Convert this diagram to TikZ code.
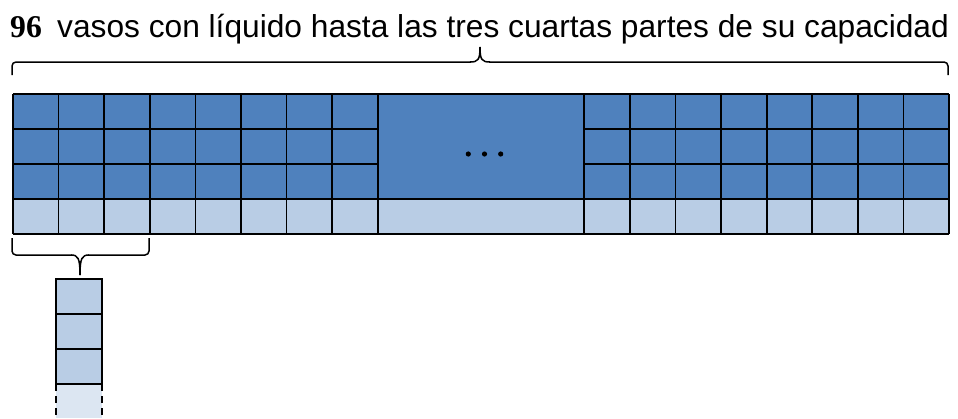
\documentclass[tikz,border=0pt]{standalone}
\usepackage{fontspec}
\setmainfont{Liberation Serif}
\setsansfont{Liberation Sans}
\definecolor{dblue}{HTML}{4F81BD}
\definecolor{lblue}{HTML}{B9CDE5}
\definecolor{pblue}{HTML}{DCE6F2}
\begin{document}
\begin{tikzpicture}[x=1pt,y=-1pt,
  gridline/.style={draw=black,line width=1.7pt},
  braceline/.style={draw=black,line width=1.5pt},
  dcell/.style={fill=dblue},
  lcell/.style={fill=lblue}]
\useasboundingbox (0,0) rectangle (958,418);
% title
\node[anchor=base west,inner sep=0,font=\fontsize{31.7}{38}\selectfont\bfseries\rmfamily] (num) at (10,37) {96};
\node[anchor=base west,inner sep=0,font=\fontsize{31.7}{38}\selectfont\sffamily] (title) at (57,37) {vasos con líquido hasta las tres cuartas partes de su capacidad};
% top brace
\draw[braceline,rounded corners=4pt] (12,75) -- (12,62) -- (471,62);
\draw[braceline] (470,62) .. controls (478,62) and (480,60) .. (480,47);
\draw[braceline] (490,62) .. controls (482,62) and (480,60) .. (480,47);
\draw[braceline,rounded corners=4pt] (489,62) -- (948,62) -- (948,75);
% fills
\fill[dblue] (13,94) rectangle (949.1,199);
\fill[lblue] (13,199) rectangle (949.1,234);
% grid lines
\foreach \i in {0,...,8}{
  \draw[gridline] ({13+\i*45.6},94) -- ({13+\i*45.6},234);
  \draw[gridline] ({584.3+\i*45.6},94) -- ({584.3+\i*45.6},234);
}
\foreach \y in {129,164}{
  \draw[gridline] (13,\y) -- (377.8,\y);
  \draw[gridline] (584.3,\y) -- (949.1,\y);
}
\draw[gridline] (13,94) -- (949.1,94);
\draw[gridline] (13,199) -- (949.1,199);
\draw[gridline] (13,234) -- (949.1,234);
% dots
\foreach \x in {468.3,484.5,500.7}{
  \fill[black] (\x,154) circle[radius=2.6];
}
% bottom brace
\draw[braceline,rounded corners=4pt] (12,238) -- (12,255) -- (72,255);
\draw[braceline] (71,255) .. controls (78,255) and (80,258) .. (80,275);
\draw[braceline] (89,255) .. controls (82,255) and (80,258) .. (80,275);
\draw[braceline,rounded corners=4pt] (88,255) -- (149,255) -- (149,238);
% stack
\fill[lblue] (56,279) rectangle (102,384);
\fill[pblue] (56,384) rectangle (102,418);
\draw[gridline] (56,384) -- (56,279) -- (102,279) -- (102,384);
\draw[gridline] (56,314) -- (102,314);
\draw[gridline] (56,349) -- (102,349);
\draw[gridline] (56,384) -- (102,384);
\draw[draw=black,line width=1.5pt,dash pattern=on 7pt off 5pt] (56,384) -- (56,418);
\draw[draw=black,line width=1.5pt,dash pattern=on 7pt off 5pt] (102,384) -- (102,418);
\end{tikzpicture}
\end{document}
